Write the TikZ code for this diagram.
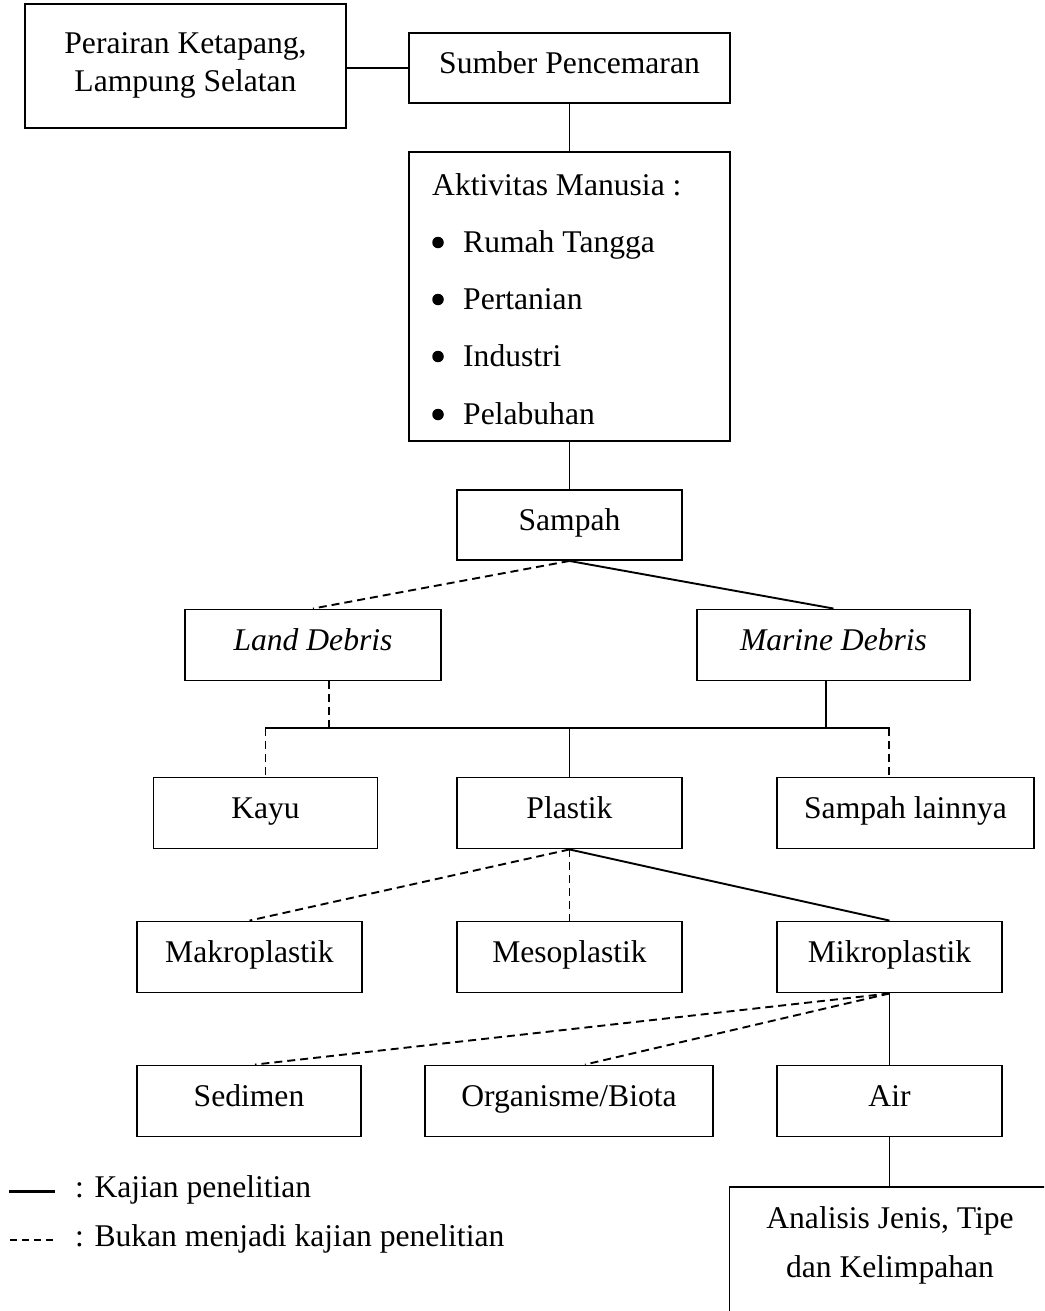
\documentclass[tikz,border=0pt]{standalone}
\usepackage{fontspec}
\setmainfont{Liberation Serif}
\usetikzlibrary{calc}
\tikzset{
  box/.style={draw, line width=1.9pt, inner sep=0pt, text height=21pt, text depth=10pt, minimum height=71pt},
  res/.style={line width=1.9pt},
  nores/.style={line width=1.9pt, dash pattern=on 8pt off 5pt},
  txt/.style={inner sep=0pt, anchor=base},
  ltxt/.style={inner sep=0pt, anchor=base west},
  bul/.style={circle, fill, inner sep=0pt, minimum size=11.5pt},
}
\begin{document}
\begin{tikzpicture}[x=1pt,y=-1pt, font=\fontsize{31.6}{38}\selectfont]
\clip (0,0) rectangle (1044,1311);
% boxes
\node[box, minimum width=321pt, minimum height=124pt] (per) at (185.5,66) {};
\node[txt] (per1) at (185.5,54) {Perairan Ketapang,};
\node[txt] (per2) at (185.5,92) {Lampung Selatan};
\node[box, minimum width=321pt, minimum height=70pt] (sum) at (569.5,68) {Sumber Pencemaran};
\node[box, minimum width=321pt, minimum height=289pt] (akt) at (569.5,296.5) {};
\node[ltxt] (akt0) at (432,195) {Aktivitas Manusia :};
\node[bul] (bu1) at (438,242.5) {};
\node[ltxt] (akt1) at (463,252) {Rumah Tangga};
\node[bul] (bu2) at (438,299.5) {};
\node[ltxt] (akt2) at (463,309) {Pertanian};
\node[bul] (bu3) at (438,356.5) {};
\node[ltxt] (akt3) at (463,366) {Industri};
\node[bul] (bu4) at (438,414.5) {};
\node[ltxt] (akt4) at (463,424) {Pelabuhan};
\node[box, minimum width=225pt, minimum height=70pt] (samp) at (569.5,525) {Sampah};
\node[box, minimum width=256pt] (land) at (313,645) {\itshape Land Debris};
\node[box, minimum width=273pt] (mar) at (833.5,645) {\itshape Marine Debris};
\node[box, minimum width=224pt] (kayu) at (265.5,813) {Kayu};
\node[box, minimum width=225pt] (plas) at (569.5,813) {Plastik};
\node[box, minimum width=257pt] (lain) at (905.5,813) {Sampah lainnya};
\node[box, minimum width=225pt] (makro) at (249.5,957) {Makroplastik};
\node[box, minimum width=225pt] (meso) at (569.5,957) {Mesoplastik};
\node[box, minimum width=225pt] (mikro) at (889.5,957) {Mikroplastik};
\node[box, minimum width=224pt] (sed) at (249,1101) {Sedimen};
\node[box, minimum width=288pt] (org) at (569,1101) {Organisme/Biota};
\node[box, minimum width=225pt] (air) at (889.5,1101) {Air};
\node[box, minimum width=320pt, minimum height=142pt] (ana) at (889.5,1258) {};
\node[txt] (ana1) at (890,1228) {Analisis Jenis, Tipe};
\node[txt] (ana2) at (890,1277) {dan Kelimpahan};
% bus coordinates
\coordinate (busL) at (265.5,728);
\coordinate (busR) at (889,728);
\coordinate (busLD) at (329,728);
\coordinate (busMD) at (826,728);
\coordinate (busC) at (569.5,728);
% connectors
\draw[res] (sum.west -| per.east) -- (sum.west);
\draw[res] (sum.south) -- (akt.north);
\draw[res] (akt.south) -- (samp.north);
\draw[nores] (samp.south) -- (land.north);
\draw[res] (samp.south) -- (mar.north);
\draw[nores] (land.south -| busLD) -- (busLD);
\draw[res] (mar.south -| busMD) -- (busMD);
\draw[res, line cap=rect] (busL) -- (busR);
\draw[nores] (busL) -- (kayu.north);
\draw[res] (busC) -- (plas.north);
\draw[nores] (busR) -- (lain.north -| busR);
\draw[nores] (plas.south) -- (makro.north);
\draw[nores] (plas.south) -- (meso.north);
\draw[res] (plas.south) -- (mikro.north);
\draw[nores] (mikro.south) -- ($(sed.north)+(6,0)$);
\draw[nores] (mikro.south) -- ($(org.north)+(16,0)$);
\draw[res] (mikro.south) -- (air.north);
\draw[res] (air.south) -- (ana.north);
% legend
\coordinate (lg1a) at (9,1191);
\coordinate (lg1b) at (55,1191);
\coordinate (lg2a) at (10,1240);
\coordinate (lg2b) at (56,1240);
\draw[line width=3pt] (lg1a) -- (lg1b);
\draw[line width=1.2pt, dash pattern=on 7pt off 5pt] (lg2a) -- (lg2b);
\node[ltxt] (lgt1) at (75,1197) {: Kajian penelitian};
\node[ltxt] (lgt2) at (75,1246) {: Bukan menjadi kajian penelitian};
\end{tikzpicture}
\end{document}
